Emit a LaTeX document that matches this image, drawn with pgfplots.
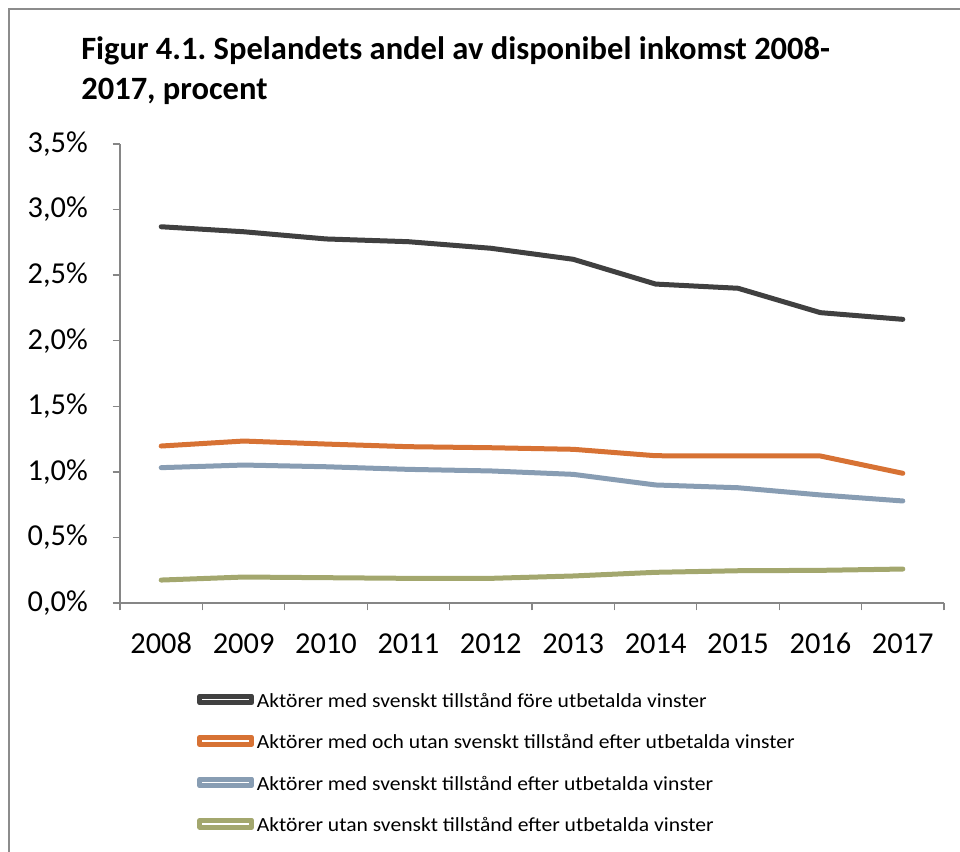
\documentclass[border=0pt]{standalone}
\usepackage{pgfplots}
\pgfplotsset{compat=1.18}
\usepackage{fontspec}
\setmainfont{Carlito}
\newfontfamily\legfont[FakeStretch=1.08]{Carlito}
\frenchspacing
\definecolor{cblack}{RGB}{64,64,64}
\definecolor{corange}{RGB}{215,114,52}
\definecolor{cblue}{RGB}{136,157,179}
\definecolor{cgreen}{RGB}{163,167,110}
\definecolor{axgray}{RGB}{134,134,134}
\definecolor{framegray}{RGB}{140,140,140}
\begin{document}
\begin{tikzpicture}
\path[use as bounding box] (0,0) rectangle (720pt,638.25pt);
\draw[framegray, line width=1.5pt] (6.75pt,-5pt) -- (6.75pt,631.5pt) -- (730pt,631.5pt);
\node[anchor=base west, inner sep=0pt, font=\fontsize{24.4}{28}\selectfont\bfseries] at (60.75pt,593.8pt) {Figur 4.1. Spelandets andel av disponibel inkomst 2008-};
\node[anchor=base west, inner sep=0pt, font=\fontsize{24.4}{28}\selectfont\bfseries] at (60.75pt,563.25pt) {2017, procent};
\begin{axis}[
  at={(90pt,186pt)}, anchor=south west,
  width=618pt, height=344.25pt, scale only axis,
  xmin=-0.5, xmax=9.5, ymin=0, ymax=3.5,
  axis x line*=bottom, axis y line*=left,
  axis line style={-, axgray, line width=1pt},
  xtick={-0.5,0.5,1.5,2.5,3.5,4.5,5.5,6.5,7.5,8.5,9.5},
  x tick label as interval,
  xticklabels={2008,2009,2010,2011,2012,2013,2014,2015,2016,2017},
  ytick={0,0.5,1,1.5,2,2.5,3,3.5},
  yticklabels={{0,0\%},{0,5\%},{1,0\%},{1,5\%},{2,0\%},{2,5\%},{3,0\%},{3,5\%}},
  tick align=outside, major tick length=5.5pt,
  tick style={axgray, line width=1pt},
  ticklabel style={font=\fontsize{22.8}{27}\selectfont},
  xticklabel style={anchor=north, inner sep=0pt, text height=15pt, text depth=0pt, yshift=-17pt},
  yticklabel style={anchor=east, inner sep=0pt, xshift=-18.5pt},
  legend style={at={(0.0934,-0.197)}, anchor=north west, draw=none, fill=none,
    inner sep=0pt, font=\legfont\fontsize{15}{18}\selectfont, row sep=17.7pt,
    nodes={inner sep=0pt, text height=10pt, text depth=3pt},
    /tikz/every odd column/.append style={column sep=2pt}},
  legend cell align=left,
  legend image code/.code={%
    \path (0pt,0pt) rectangle (39pt,5pt);
    \draw[#1, line width=3.5pt, line cap=round] (1.75pt,5pt) -- (38.5pt,5pt);},
  every axis plot/.append style={line width=3.75pt, line join=round, line cap=round, mark=none},
]
\addplot[cblack] coordinates {(0,2.869) (1,2.831) (2,2.776) (3,2.755) (4,2.705) (5,2.621) (6,2.432) (7,2.400) (8,2.214) (9,2.163)};
\addlegendentry{Aktörer med svenskt tillstånd före utbetalda vinster}
\addplot[corange] coordinates {(0,1.197) (1,1.235) (2,1.212) (3,1.192) (4,1.184) (5,1.172) (6,1.123) (7,1.121) (8,1.121) (9,0.989)};
\addlegendentry{Aktörer med och utan svenskt tillstånd efter utbetalda vinster}
\addplot[cblue] coordinates {(0,1.032) (1,1.052) (2,1.039) (3,1.019) (4,1.007) (5,0.981) (6,0.900) (7,0.879) (8,0.824) (9,0.778)};
\addlegendentry{Aktörer med svenskt tillstånd efter utbetalda vinster}
\addplot[cgreen] coordinates {(0,0.175) (1,0.198) (2,0.193) (3,0.188) (4,0.188) (5,0.206) (6,0.234) (7,0.246) (8,0.249) (9,0.259)};
\addlegendentry{Aktörer utan svenskt tillstånd efter utbetalda vinster}
\end{axis}
\end{tikzpicture}
\end{document}
